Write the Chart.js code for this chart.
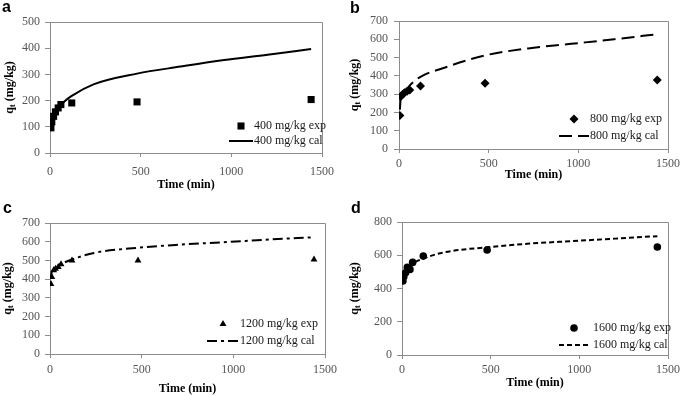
<!DOCTYPE html>
<html>
<head>
<meta charset="utf-8">
<script src="https://cdn.jsdelivr.net/npm/chart.js@4.4.1/dist/chart.umd.min.js"></script>
<style>
  html, body { margin: 0; padding: 0; background: #fff; }
  #wrap { position: relative; width: 684px; height: 396px; }
  .panel { position: absolute; width: 342px; height: 198px; }
  canvas { display: block; }
</style>
</head>
<body>
<div id="wrap">
  <div class="panel" style="left:0;top:0"><canvas id="chartA" width="342" height="198"></canvas></div>
  <div class="panel" style="left:342px;top:0"><canvas id="chartB" width="342" height="198"></canvas></div>
  <div class="panel" style="left:0;top:198px"><canvas id="chartC" width="342" height="198"></canvas></div>
  <div class="panel" style="left:342px;top:198px"><canvas id="chartD" width="342" height="198"></canvas></div>
</div>
<script>
// sampling times (min)
const timeExp = [5, 10, 20, 30, 45, 60, 120, 480, 1440];
const timeCal = [5, 10, 20, 30, 45, 60, 120, 240, 480, 720, 960, 1200, 1440];

// q_t (mg/kg), experimental and calculated
const expA = [96, 119, 140, 157, 172, 185, 191, 195, 204];
const calA = [100, 122, 145, 160, 175, 185, 218, 262, 303, 330, 355, 375, 397];
const expB = [183, 287, 298, 308, 316, 322, 345, 359, 377];
const calB = [215, 282, 298, 312, 330, 348, 395, 440, 512, 550, 575, 600, 628];
const expC = [374, 412, 448, 456, 465, 480, 500, 500, 505];
const calC = [415, 440, 452, 460, 470, 480, 505, 540, 568, 585, 598, 612, 624];
const expD = [445, 470, 494, 527, 515, 557, 595, 632, 650];
const calD = [440, 465, 490, 510, 530, 548, 580, 618, 648, 670, 685, 700, 715];

const seriesLabels = ['400 mg/kg', '800 mg/kg', '1200 mg/kg', '1600 mg/kg'];
const xTicks = [0, 500, 1000, 1500];
const yMaxes = [500, 700, 700, 800];
const ySteps = [100, 100, 100, 200];

const AXIS_GREY = '#8c8c8c';
const TICK_GREY = '#555';
const SERIF = '"Liberation Serif", "Times New Roman", serif';

// per-panel layout (canvas pixels)
const panels = [
  { id: 'chartA', letter: 'a', exp: expA, cal: calA, marker: 'rect', mr: 5, dash: [],
    area: { l: 50, t: 22, r: 325, b: 153 }, xPad: 8, yPad: 5, xTitleY: 185, yTitleX: 10,
    letterPos: [2, 12], leg: { m: 241, tx: 254, line: [229, 253], rows: [126, 141] } },
  { id: 'chartB', letter: 'b', exp: expB, cal: calB, marker: 'rectRot', mr: 4.5, dash: [13, 6],
    area: { l: 57, t: 21, r: 330, b: 149 }, xPad: 4, yPad: 6, xTitleY: 175, yTitleX: 13,
    letterPos: [8, 13], leg: { m: 232, tx: 248, line: [217, 247], rows: [119, 136] } },
  { id: 'chartC', letter: 'c', exp: expC, cal: calC, marker: 'triangle', mr: 4, dash: [10, 4, 3, 4],
    area: { l: 50, t: 25, r: 325, b: 156 }, xPad: 5, yPad: 5, xTitleY: 191, yTitleX: 8,
    letterPos: [3, 15], leg: { m: 223, tx: 240, line: [207, 238], rows: [126, 143] } },
  { id: 'chartD', letter: 'd', exp: expD, cal: calD, marker: 'circle', mr: 3.8, dash: [5, 3],
    area: { l: 60, t: 24, r: 330, b: 157 }, xPad: 4, yPad: 5, xTitleY: 185, yTitleX: 13,
    letterPos: [9, 15], leg: { m: 232, tx: 251, line: [217, 248], rows: [130, 147] } }
];

// frame, axis titles, legend and panel letter
const decorPlugin = {
  id: 'decor',
  afterDraw(chart, args, opts) {
    const p = opts.panel;
    const { ctx, chartArea: ca } = chart;
    ctx.save();

    // top and right frame lines
    ctx.strokeStyle = AXIS_GREY;
    ctx.lineWidth = 1;
    ctx.beginPath();
    ctx.moveTo(Math.round(ca.left) + 0.5, Math.round(ca.top) + 0.5);
    ctx.lineTo(Math.round(ca.right) + 0.5, Math.round(ca.top) + 0.5);
    ctx.lineTo(Math.round(ca.right) + 0.5, Math.round(ca.bottom) + 0.5);
    ctx.stroke();

    // x title
    ctx.fillStyle = '#000';
    ctx.font = `bold 12px ${SERIF}`;
    ctx.textAlign = 'center';
    ctx.textBaseline = 'middle';
    ctx.fillText('Time (min)', (ca.left + ca.right) / 2, p.xTitleY);

    // y title: q_t (mg/kg), rotated
    const big = `bold 12px ${SERIF}`, small = `bold 9px ${SERIF}`;
    ctx.font = big; const wq = ctx.measureText('q').width;
    const wr = ctx.measureText(' (mg/kg)').width;
    ctx.font = small; const wt = ctx.measureText('t').width;
    const total = wq + wt + wr;
    ctx.translate(p.yTitleX, (ca.top + ca.bottom) / 2);
    ctx.rotate(-Math.PI / 2);
    ctx.textAlign = 'left';
    ctx.textBaseline = 'middle';
    let x0 = -total / 2;
    ctx.font = big; ctx.fillText('q', x0, 0); x0 += wq;
    ctx.font = small; ctx.fillText('t', x0, 3); x0 += wt;
    ctx.font = big; ctx.fillText(' (mg/kg)', x0, 0);
    ctx.setTransform(1, 0, 0, 1, 0, 0);

    // legend
    const lg = p.leg;
    const expSet = chart.data.datasets[0], calSet = chart.data.datasets[1];
    ctx.fillStyle = '#000';
    ctx.strokeStyle = '#000';
    Chart.helpers.drawPoint(ctx, { pointStyle: expSet.pointStyle, radius: expSet.pointRadius, rotation: 0, borderWidth: 0 }, lg.m, lg.rows[0]);
    ctx.lineWidth = 2;
    ctx.setLineDash(calSet.borderDash);
    ctx.beginPath();
    ctx.moveTo(lg.line[0], lg.rows[1]);
    ctx.lineTo(lg.line[1], lg.rows[1]);
    ctx.stroke();
    ctx.setLineDash([]);
    ctx.font = `12px ${SERIF}`;
    ctx.fillStyle = '#1a1a1a';
    ctx.textAlign = 'left';
    ctx.textBaseline = 'middle';
    ctx.fillText(expSet.label, lg.tx, lg.rows[0]);
    ctx.fillText(calSet.label, lg.tx, lg.rows[1]);

    // panel letter
    ctx.font = 'bold 16px "Liberation Sans", Arial, sans-serif';
    ctx.fillStyle = '#000';
    ctx.textBaseline = 'alphabetic';
    ctx.fillText(p.letter, p.letterPos[0], p.letterPos[1]);
    ctx.restore();
  }
};

function buildChart(p, i) {
  const W = 342, H = 198;
  const a = p.area;
  const yMax = yMaxes[i];
  return new Chart(document.getElementById(p.id), {
    type: 'line',
    data: {
      datasets: [
        {
          label: seriesLabels[i] + ' exp',
          data: timeExp.map((t, k) => ({ x: t, y: p.exp[k] })),
          showLine: false,
          pointStyle: p.marker,
          pointRadius: p.mr,
          pointBackgroundColor: '#000',
          pointBorderColor: '#000',
          pointBorderWidth: 0,
          order: 0
        },
        {
          label: seriesLabels[i] + ' cal',
          data: timeCal.map((t, k) => ({ x: t, y: p.cal[k] })),
          borderColor: '#000',
          borderWidth: 2,
          borderDash: p.dash,
          pointRadius: 0,
          cubicInterpolationMode: 'monotone',
          fill: false,
          order: 1
        }
      ]
    },
    options: {
      responsive: false,
      animation: false,
      devicePixelRatio: 1,
      layout: { padding: { left: 0, top: a.t, right: W - a.r, bottom: 0 } },
      plugins: {
        legend: { display: false },
        tooltip: { enabled: false },
        decor: { panel: p }
      },
      scales: {
        x: {
          type: 'linear',
          min: xTicks[0],
          max: xTicks[xTicks.length - 1],
          afterBuildTicks: (s) => { s.ticks = xTicks.map(v => ({ value: v })); },
          afterFit: (s) => { s.height = H - a.b; },
          border: { display: true, color: AXIS_GREY },
          grid: { display: true, drawOnChartArea: false, tickLength: 4, color: AXIS_GREY },
          ticks: {
            color: TICK_GREY, font: { family: SERIF, size: 12 }, padding: p.xPad, maxRotation: 0,
            callback: (v) => String(v)
          }
        },
        y: {
          min: 0,
          max: yMax,
          afterFit: (s) => { s.width = a.l; },
          border: { display: true, color: AXIS_GREY },
          grid: { display: true, drawOnChartArea: false, tickLength: 5, color: AXIS_GREY },
          ticks: {
            stepSize: ySteps[i], color: TICK_GREY, font: { family: SERIF, size: 12 }, padding: p.yPad,
            callback: (v) => String(v)
          }
        }
      }
    },
    plugins: [decorPlugin]
  });
}

panels.forEach(buildChart);
</script>
</body>
</html>
